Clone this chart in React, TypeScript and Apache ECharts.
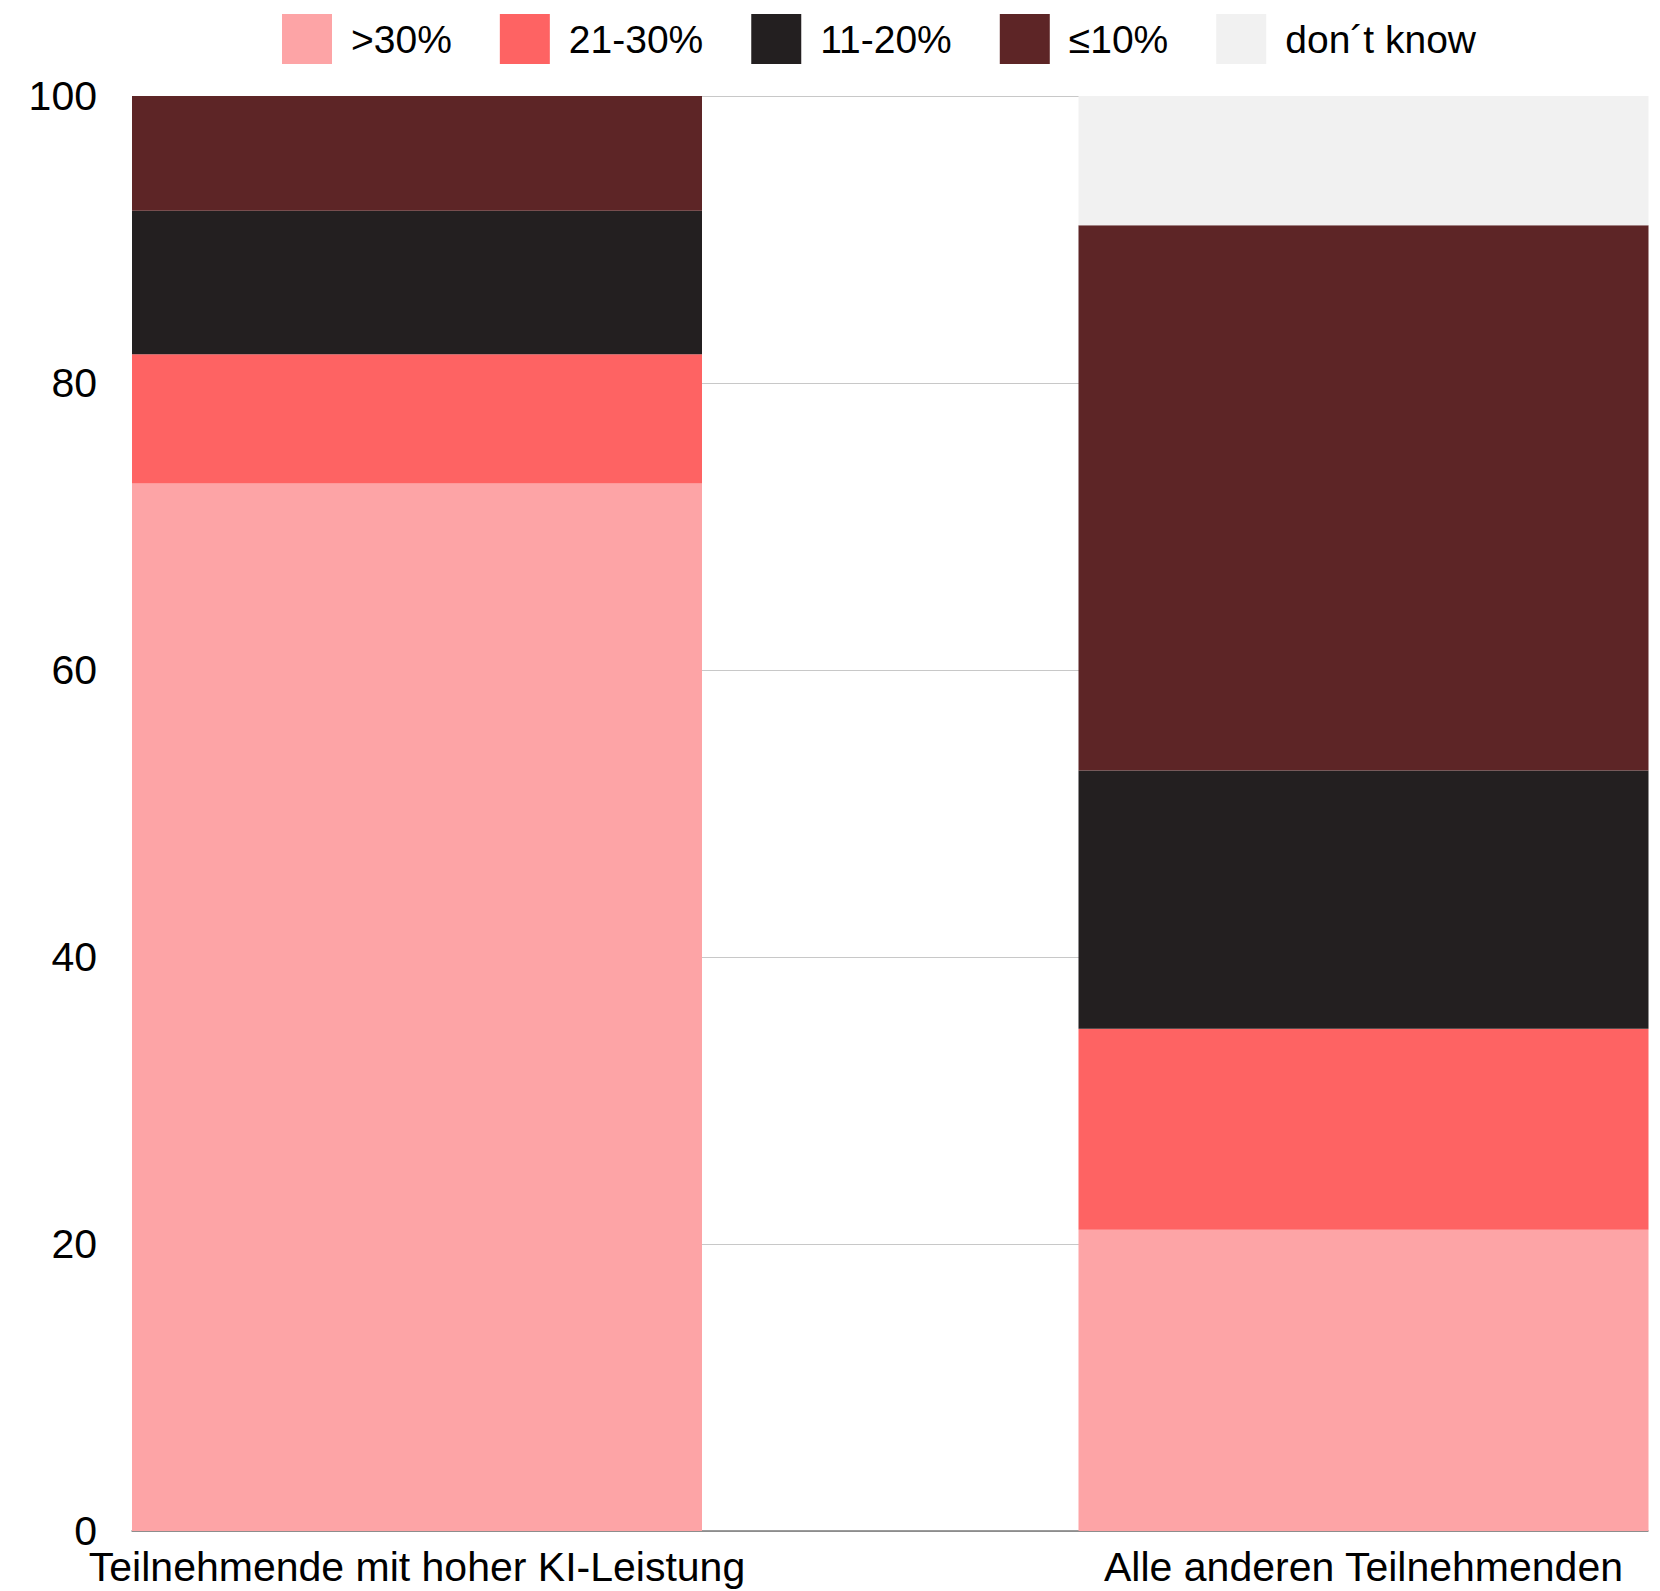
import React, { useEffect, useRef } from "react";
import * as echarts from "echarts";

const categories = ["Teilnehmende mit hoher KI-Leistung", "Alle anderen Teilnehmenden"];
const segmentNames = [">30%", "21-30%", "11-20%", "≤10%", "don´t know"];
const segmentColors = ["#FDA4A6", "#FE6363", "#231F20", "#5D2526", "#F1F1F1"];
const highPerformers = [73, 9, 10, 8, 0];
const allOthers = [21, 14, 18, 38, 9];
const yTicks = [0, 20, 40, 60, 80, 100];

const FONT = "'Liberation Sans', Arial, sans-serif";

export default function App() {
  const ref = useRef<HTMLDivElement>(null);

  useEffect(() => {
    document.body.style.margin = "0";
    if (!ref.current) return;
    const chart = echarts.init(ref.current, null, { renderer: "svg" });

    const series = segmentNames.map((name, i) => ({
      name,
      type: "bar",
      stack: "total",
      xAxisIndex: 1,
      yAxisIndex: 1,
      barWidth: 570,
      clip: false,
      itemStyle: { color: segmentColors[i] },
      data: [highPerformers[i], allOthers[i]],
      z: 3,
    }));

    chart.setOption({
      animation: false,
      backgroundColor: "#ffffff",
      textStyle: { fontFamily: FONT },
      legend: {
        left: 277,
        top: 9,
        icon: "rect",
        itemWidth: 50,
        itemHeight: 50,
        itemGap: 48,
        data: segmentNames,
        textStyle: {
          fontFamily: FONT,
          fontSize: 39,
          color: "#000",
          padding: [0, 0, 0, 14],
        },
      },
      grid: [
        { left: 132, right: 12, top: 96, height: 1435 },
        { left: 417, width: 946.5, top: 96, height: 1435 },
      ],
      xAxis: [
        {
          gridIndex: 0,
          type: "value",
          min: 0,
          max: 1,
          axisLine: { show: true, lineStyle: { color: "#7a7a7a", width: 1.5 } },
          axisTick: { show: false },
          axisLabel: { show: false },
          splitLine: { show: false },
        },
        {
          gridIndex: 1,
          type: "category",
          data: categories,
          boundaryGap: false,
          axisLine: { show: false },
          axisTick: { show: false },
          splitLine: { show: false },
          axisLabel: {
            fontFamily: FONT,
            fontSize: 41,
            lineHeight: 44,
            color: "#000",
            margin: 14,
            interval: 0,
          },
        },
      ],
      yAxis: [
        {
          gridIndex: 0,
          type: "value",
          min: yTicks[0],
          max: yTicks[yTicks.length - 1],
          interval: 20,
          axisLine: { show: false },
          axisTick: { show: false },
          axisLabel: {
            fontFamily: FONT,
            fontSize: 41,
            lineHeight: 40,
            color: "#000",
            margin: 35,
            padding: [4, 0, 0, 0],
          },
          splitLine: { show: true, lineStyle: { color: "#c8c8c8", width: 1.2 } },
        },
        {
          gridIndex: 1,
          type: "value",
          min: 0,
          max: 100,
          show: false,
        },
      ],
      series,
    });

    return () => chart.dispose();
  }, []);

  return <div ref={ref} style={{ width: 1660, height: 1591 }} />;
}
